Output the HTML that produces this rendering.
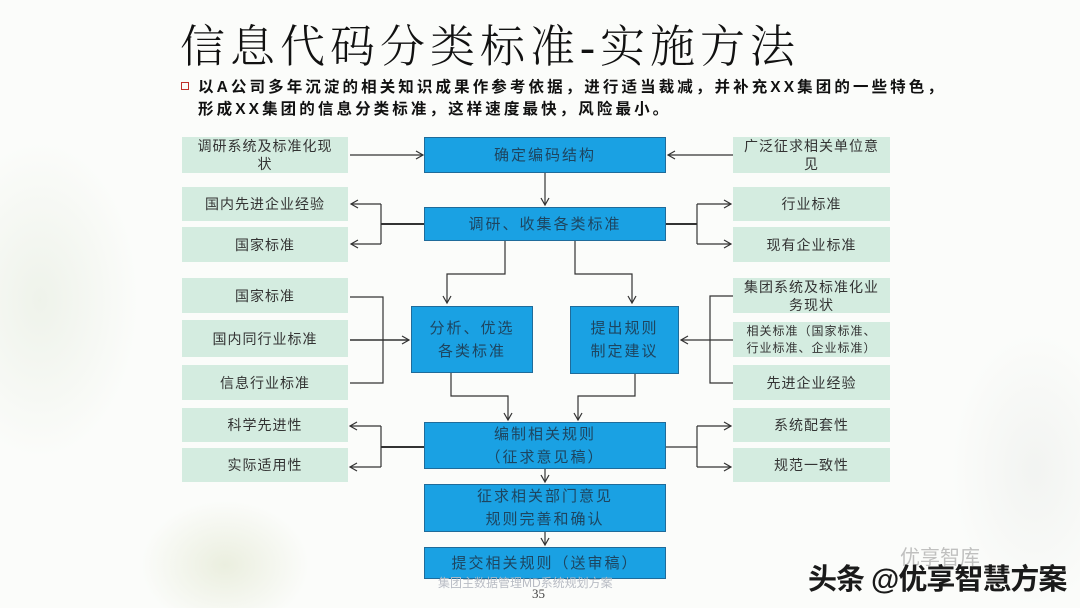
<!DOCTYPE html>
<html><head><meta charset="utf-8"><style>
html,body{margin:0;width:1080px;height:608px;overflow:hidden}
body{background:#fbfcfa;position:relative;font-family:"Liberation Sans","Noto Sans CJK SC",sans-serif}
.bg1{position:absolute;left:-60px;top:140px;width:200px;height:320px;border-radius:50%;background:radial-gradient(ellipse,rgba(215,225,205,.35),rgba(255,255,255,0) 70%)}
.bg2{position:absolute;left:140px;top:500px;width:170px;height:130px;border-radius:50%;background:radial-gradient(ellipse,rgba(215,222,190,.45),rgba(255,255,255,0) 70%)}
.bg3{position:absolute;left:950px;top:330px;width:170px;height:280px;border-radius:50%;background:radial-gradient(ellipse,rgba(225,228,225,.35),rgba(255,255,255,0) 70%)}
.t{position:absolute;left:180px;top:10px;font-family:"Liberation Serif","Noto Serif CJK SC",serif;font-size:45px;font-weight:300;color:#111;letter-spacing:5px;white-space:nowrap}
.b{position:absolute;left:198px;font-size:15.5px;font-weight:bold;color:#111;white-space:nowrap;letter-spacing:3.1px}
.sq{position:absolute;left:181px;top:82px;width:6px;height:6px;border:1.5px solid #c0302a}
.g{position:absolute;background:#d4ece0;color:#333;font-size:14px;display:flex;align-items:center;justify-content:center;text-align:center;line-height:18px;letter-spacing:1px}
.bl{position:absolute;background:#1aa1e3;border:1.5px solid #1f6b9a;box-sizing:border-box;color:#1d4560;font-size:15px;display:flex;align-items:center;justify-content:center;text-align:center;line-height:23px;letter-spacing:2px}
svg{position:absolute;left:0;top:0}
</style></head><body>
<div class="bg1"></div><div class="bg2"></div><div class="bg3"></div>
<div class="t">信息代码分类标准-实施方法</div>
<div class="sq"></div>
<div class="b" style="top:75px">以A公司多年沉淀的相关知识成果作参考依据，进行适当裁减，并补充XX集团的一些特色，</div>
<div class="b" style="top:97px">形成XX集团的信息分类标准，这样速度最快，风险最小。</div>

<div class="g" style="left:182px;top:137px;width:166px;height:36px">调研系统及标准化现<br>状</div>
<div class="g" style="left:182px;top:187px;width:166px;height:34px">国内先进企业经验</div>
<div class="g" style="left:182px;top:227px;width:166px;height:35px">国家标准</div>
<div class="g" style="left:182px;top:278px;width:166px;height:35px">国家标准</div>
<div class="g" style="left:182px;top:320px;width:166px;height:37px">国内同行业标准</div>
<div class="g" style="left:182px;top:365px;width:166px;height:35px">信息行业标准</div>
<div class="g" style="left:182px;top:408px;width:166px;height:34px">科学先进性</div>
<div class="g" style="left:182px;top:448px;width:166px;height:34px">实际适用性</div>

<div class="g" style="left:733px;top:137px;width:157px;height:36px">广泛征求相关单位意<br>见</div>
<div class="g" style="left:733px;top:187px;width:157px;height:34px">行业标准</div>
<div class="g" style="left:733px;top:227px;width:157px;height:35px">现有企业标准</div>
<div class="g" style="left:733px;top:278px;width:157px;height:35px">集团系统及标准化业<br>务现状</div>
<div class="g" style="left:733px;top:322px;width:157px;height:35px;font-size:12px;line-height:17px">相关标准（国家标准、<br>行业标准、企业标准）</div>
<div class="g" style="left:733px;top:365px;width:157px;height:35px">先进企业经验</div>
<div class="g" style="left:733px;top:408px;width:157px;height:34px">系统配套性</div>
<div class="g" style="left:733px;top:448px;width:157px;height:34px">规范一致性</div>

<div class="bl" style="left:424px;top:137px;width:242px;height:36px">确定编码结构</div>
<div class="bl" style="left:424px;top:207px;width:242px;height:34px">调研、收集各类标准</div>
<div class="bl" style="left:411px;top:306px;width:122px;height:67px">分析、优选<br>各类标准</div>
<div class="bl" style="left:570px;top:306px;width:109px;height:68px">提出规则<br>制定建议</div>
<div class="bl" style="left:424px;top:422px;width:242px;height:47px">编制相关规则<br>（征求意见稿）</div>
<div class="bl" style="left:424px;top:484px;width:242px;height:48px">征求相关部门意见<br>规则完善和确认</div>
<div class="bl" style="left:424px;top:547px;width:242px;height:32px">提交相关规则（送审稿）</div>

<svg width="1080" height="608" fill="none" stroke="#333" stroke-width="1.2">
<defs><marker id="a" markerWidth="10" markerHeight="10" refX="8" refY="5" orient="auto" markerUnits="userSpaceOnUse"><path d="M1,1 L8,5 L1,9" stroke="#333" stroke-width="1.2" fill="none"/></marker></defs>
<path d="M350,155 H423" marker-end="url(#a)"/>
<path d="M733,155 H668" marker-end="url(#a)"/>
<path d="M545,173 V205" marker-end="url(#a)"/>
<path d="M424,224 H381" stroke-width="2"/>
<path d="M381,204 V244"/>
<path d="M381,204 H351" marker-end="url(#a)"/>
<path d="M381,244 H351" marker-end="url(#a)"/>
<path d="M666,224 H697" stroke-width="2"/>
<path d="M697,204 V244"/>
<path d="M697,204 H731" marker-end="url(#a)"/>
<path d="M697,244 H731" marker-end="url(#a)"/>
<path d="M505,241 V274 H447 V303" marker-end="url(#a)"/>
<path d="M575,241 V274 H632 V303" marker-end="url(#a)"/>
<path d="M350,297 H383 V383 H350"/>
<path d="M350,340 H409" marker-end="url(#a)" stroke-width="1.6"/>
<path d="M733,296 H710 V383 H733"/>
<path d="M733,340 H681" marker-end="url(#a)"/>
<path d="M451,373 V396 H508 V420" marker-end="url(#a)"/>
<path d="M635,374 V396 H578 V420" marker-end="url(#a)"/>
<path d="M424,447 H381" stroke-width="2"/>
<path d="M381,426 V467"/>
<path d="M381,426 H350" marker-end="url(#a)"/>
<path d="M381,467 H350" marker-end="url(#a)"/>
<path d="M666,447 H697"/>
<path d="M697,426 V467"/>
<path d="M697,426 H731" marker-end="url(#a)"/>
<path d="M697,467 H731" marker-end="url(#a)"/>
<path d="M545,469 V482" marker-end="url(#a)"/>
<path d="M545,532 V545" marker-end="url(#a)"/>
</svg>
<div style="position:absolute;left:438px;top:574px;font-size:12px;color:#b8bcc4;white-space:nowrap">集团主数据管理MD系统规划方案</div>
<div style="position:absolute;left:532px;top:586px;font-size:13px;color:#444;font-family:'Liberation Serif',serif">35</div>
<div style="position:absolute;left:900px;top:541px;font-size:20px;color:rgba(120,120,120,.45);white-space:nowrap">优享智库</div>
<div style="position:absolute;left:808px;top:556px;font-size:29px;color:#1a1a1a;white-space:nowrap;font-weight:bold;letter-spacing:-1px">头条 @优享智慧方案</div>
</body></html>
